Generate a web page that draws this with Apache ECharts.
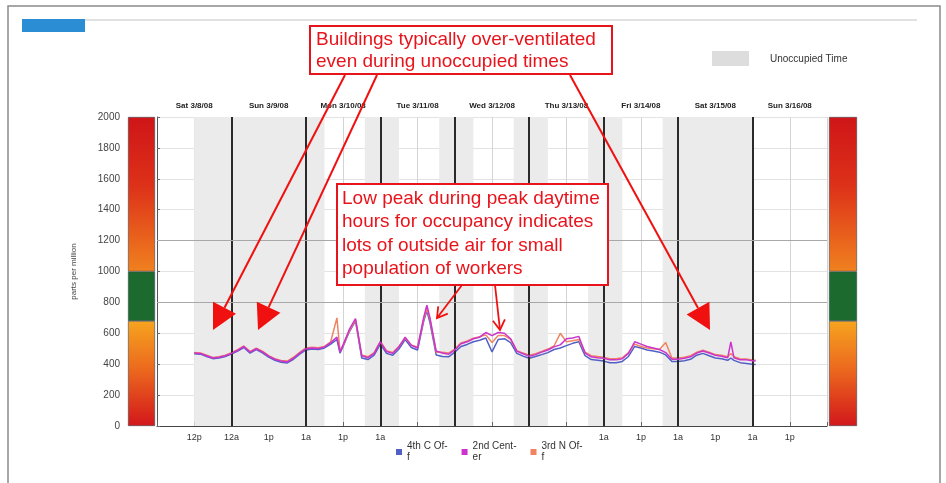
<!DOCTYPE html>
<html><head><meta charset="utf-8">
<script src="https://cdn.jsdelivr.net/npm/echarts@6/dist/echarts.min.js"></script>
<style>html,body{margin:0;padding:0;background:#fff}#c{width:946px;height:483px}</style>
</head><body><div id="c"></div>
<script>
// hours since Sat 3/8/08 00:00
var hours = [12,14,16,18,20,22,24,26,28,30,32,34,36,38,40,42,44,46,48,50,52,54,56,58,59,60,62,64,66,68,70,72,74,76,78,80,82,84,86,87,88,90,92,94,96,98,100,102,104,106,108,110,112,114,116,118,120,122,124,126,128,130,132,134,136,138,140,142,144,146,148,150,152,154,156,158,160,162,164,166,168,170,172,174,176,178,180,182,184,185,186,188,190,192,193];
var fourthC = [468,465,450,436,440,450,465,485,508,472,494,474,446,425,412,408,432,465,492,498,495,505,530,560,472,515,610,680,440,430,458,530,470,458,498,560,508,492,680,745,670,460,450,448,478,515,528,545,555,570,480,560,565,540,470,452,438,450,462,475,495,505,520,535,545,455,430,425,420,410,410,418,450,515,505,492,485,478,460,418,418,422,432,458,470,455,440,435,425,440,425,410,405,400,398];
var secondCenter = [472,470,455,440,445,455,470,490,515,478,500,480,452,432,420,415,440,472,500,505,502,512,540,575,480,525,625,695,455,442,470,545,482,470,512,575,522,505,705,782,700,485,472,465,492,532,545,565,575,605,585,605,600,565,485,468,452,462,478,492,512,525,565,570,580,472,448,442,438,428,428,435,470,545,530,515,505,495,475,432,432,438,448,472,485,472,458,452,442,545,442,428,428,422,420];
var thirdN = [475,472,458,444,448,458,474,494,518,482,503,484,456,436,424,420,445,476,505,510,506,515,545,700,485,522,615,685,460,448,475,548,488,476,516,570,525,510,690,760,690,478,478,472,498,538,550,568,578,590,540,585,585,560,488,472,458,468,482,498,518,600,545,552,560,478,455,450,445,436,435,442,475,530,515,505,500,495,540,440,440,445,455,478,490,478,462,458,448,470,448,435,434,428,426];
var seriesNames = ['4th C Off','2nd Center','3rd N Off'];
var legendTexts = ['4th C Of-\nf','2nd Cent-\ner','3rd N Of-\nf'];
var dayLabels = ['Sat 3/8/08','Sun 3/9/08','Mon 3/10/08','Tue 3/11/08','Wed 3/12/08','Thu 3/13/08','Fri 3/14/08','Sat 3/15/08','Sun 3/16/08'];
var xLabelHours = [12,24,36,48,60,72,144,156,168,180,192,204];
var xLabelTexts = ['12p','12a','1p','1a','1p','1a','1a','1p','1a','1p','1a','1p'];
var midnights = [24,48,72,96,120,144,168,192];
var unoccupied = [[12,54],[67,78],[91,102],[115,126],[139,150],[163,192]];
var bandValues = [680,320,1000]; // ppm scale bands: 0-680, 680-1000, 1000-2000
var refLines = [800,1200];

var FONT = "'Liberation Sans', Arial, sans-serif";
function pairs(v){ return hours.map(function(h,i){ return [h, v[i]]; }); }
var chart = echarts.init(document.getElementById('c'));

var gradLow = new echarts.graphic.LinearGradient(0,0,0,1,[{offset:0,color:'#f6a41f'},{offset:0.45,color:'#ec6a1e'},{offset:1,color:'#d2171b'}]);
var gradHigh = new echarts.graphic.LinearGradient(0,0,0,1,[{offset:0,color:'#cf1518'},{offset:0.45,color:'#dd3219'},{offset:1,color:'#f0811f'}]);
var bandColors = [gradLow,'#1d6a2e',gradHigh];

function bandSeries(xi, yi, stack){
  return bandValues.map(function(v,i){
    return {type:'bar', xAxisIndex:xi, yAxisIndex:yi, stack:stack, data:[v], barWidth:'100%', silent:true,
      itemStyle:{color:bandColors[i], borderColor:'#3d4a55', borderWidth:0.6}};
  });
}

var colors = ['#5260c6','#cc33cc','#f08462'];
var lineSeries = [
  {name:seriesNames[0], data:pairs(fourthC), color:colors[0], z:3},
  {name:seriesNames[2], data:pairs(thirdN), color:colors[2], z:4},
  {name:seriesNames[1], data:pairs(secondCenter), color:colors[1], z:5}
].map(function(s){
  return {name:s.name, type:'line', xAxisIndex:0, yAxisIndex:0, data:s.data, showSymbol:false, symbol:'none',
    z:s.z, lineStyle:{width:1.5, color:s.color}, itemStyle:{color:s.color}};
});
lineSeries[0].markArea = {silent:true, itemStyle:{color:'#ebebeb'},
  data: unoccupied.map(function(r){ return [{xAxis:r[0]},{xAxis:r[1]}]; })};
lineSeries[0].markLine = {silent:true, symbol:'none', label:{show:false},
  data: midnights.map(function(h){ return {xAxis:h, lineStyle:{color:'#2a2a2a', width:2, type:'solid'}}; })
    .concat(refLines.map(function(v){ return {yAxis:v, lineStyle:{color:'#a8a8a8', width:1, type:'solid'}}; }))};

var option = {
  animation:false,
  textStyle:{fontFamily:FONT},
  grid:[
    {left:157, right:119, top:117, bottom:57},
    {left:128, width:27, top:117, bottom:57},
    {left:829, width:28, top:117, bottom:57}
  ],
  legend:{
    left:391, top:436, orient:'horizontal', icon:'rect', itemWidth:6, itemHeight:6, itemGap:14,
    selectedMode:false, data:seriesNames,
    formatter:function(n){ return legendTexts[seriesNames.indexOf(n)]; },
    textStyle:{fontSize:10, color:'#333', lineHeight:11, fontFamily:FONT}
  },
  xAxis:[
    {type:'value', gridIndex:0, min:0, max:216, interval:12, position:'bottom',
      axisLine:{show:true, lineStyle:{color:'#444', width:1.2}},
      axisTick:{show:true, inside:true, length:4, lineStyle:{color:'#666'}},
      splitLine:{show:true, lineStyle:{color:'#d4d4d4', width:1}},
      axisLabel:{fontSize:9, color:'#333', margin:7, fontFamily:FONT,
        formatter:function(v){ var i = xLabelHours.indexOf(v); return i>=0 ? xLabelTexts[i] : ''; }}},
    {type:'value', gridIndex:0, min:0, max:216, interval:12, position:'top',
      axisLine:{show:false}, axisTick:{show:false}, splitLine:{show:false},
      axisLabel:{fontSize:8, fontWeight:'bold', color:'#222', margin:7, fontFamily:FONT,
        formatter:function(v){ return (v%24===12) ? dayLabels[(v-12)/24] : ''; }}},
    {type:'category', gridIndex:1, data:['a'], show:false},
    {type:'category', gridIndex:2, data:['a'], show:false}
  ],
  yAxis:[
    {type:'value', gridIndex:0, min:0, max:2000, interval:200,
      name:'parts per million', nameLocation:'middle', nameGap:79, nameRotate:90,
      nameTextStyle:{fontSize:8, color:'#444', fontFamily:FONT},
      axisLine:{show:true, lineStyle:{color:'#555', width:1}},
      axisTick:{show:true, inside:true, length:3, lineStyle:{color:'#666'}},
      splitLine:{show:true, lineStyle:{color:'#e3e3e3', width:1}},
      axisLabel:{fontSize:10, color:'#444', margin:37, fontFamily:FONT,
        formatter:function(v){ return String(v); }}},
    {type:'value', gridIndex:1, min:0, max:2000, show:false},
    {type:'value', gridIndex:2, min:0, max:2000, show:false}
  ],
  series: bandSeries(2,1,'L').concat(bandSeries(3,2,'R')).concat(lineSeries),
  graphic:[
    {type:'rect', shape:{x:8, y:6, width:932, height:490}, style:{fill:'none', stroke:'#8a8a8a', lineWidth:1.5}, z:0, silent:true},
    {type:'line', shape:{x1:85, y1:20, x2:917, y2:20}, style:{stroke:'#c4c4c4', lineWidth:1}, silent:true},
    {type:'rect', shape:{x:22, y:19, width:63, height:13}, style:{fill:'#2b8ed4'}, silent:true},
    {type:'rect', shape:{x:712, y:51, width:37, height:15}, style:{fill:'#dddddd'}, silent:true},
    {type:'text', x:770, y:59, style:{text:'Unoccupied Time', fontSize:10, fill:'#333', fontFamily:FONT, verticalAlign:'middle'}, silent:true},
    // annotation box 1
    {type:'rect', shape:{x:310, y:26, width:302, height:48}, style:{fill:'#fff', stroke:'#e8141c', lineWidth:2}, z:100, silent:true},
    {type:'text', x:316, y:29, z:101, style:{text:'Buildings typically over-ventilated\neven during unoccupied times', fontSize:19, lineHeight:22, fill:'#e8141c', fontFamily:FONT}, silent:true},
    // annotation box 2
    {type:'rect', shape:{x:337, y:184, width:271, height:101}, style:{fill:'#fff', stroke:'#e8141c', lineWidth:2}, z:100, silent:true},
    {type:'text', x:342, y:187, z:101, style:{text:'Low peak during peak daytime\nhours for occupancy indicates\nlots of outside air for small\npopulation of workers', fontSize:19, lineHeight:23.5, fill:'#e8141c', fontFamily:FONT}, silent:true},
    // big arrows
    {type:'line', shape:{x1:345, y1:75, x2:224.5, y2:307.8}, style:{stroke:'#f01010', lineWidth:2}, z:90, silent:true},
    {type:'polygon', shape:{points:[[213,330],[236,313.8],[213,301.8]]}, style:{fill:'#f01010'}, z:90, silent:true},
    {type:'line', shape:{x1:377, y1:75, x2:268.6, y2:307.3}, style:{stroke:'#f01010', lineWidth:2}, z:90, silent:true},
    {type:'polygon', shape:{points:[[258,330],[280.4,312.8],[256.8,301.8]]}, style:{fill:'#f01010'}, z:90, silent:true},
    {type:'line', shape:{x1:570, y1:75, x2:698, y2:308.1}, style:{stroke:'#f01010', lineWidth:2}, z:90, silent:true},
    {type:'polygon', shape:{points:[[710,330],[709.4,301.8],[686.6,314.4]]}, style:{fill:'#f01010'}, z:90, silent:true},
    // small arrows
    {type:'line', shape:{x1:462, y1:285, x2:437, y2:318}, style:{stroke:'#f01010', lineWidth:1.8}, z:90, silent:true},
    {type:'polyline', shape:{points:[[447.8,313.6],[437,318],[438.2,306.4]]}, style:{stroke:'#f01010', lineWidth:1.8, fill:'none'}, z:90, silent:true},
    {type:'line', shape:{x1:495, y1:285, x2:500, y2:330}, style:{stroke:'#f01010', lineWidth:1.8}, z:90, silent:true},
    {type:'polyline', shape:{points:[[504.9,319.4],[500,330],[492.9,320.8]]}, style:{stroke:'#f01010', lineWidth:1.8, fill:'none'}, z:90, silent:true}
  ]
};
chart.setOption(option);
</script></body></html>
